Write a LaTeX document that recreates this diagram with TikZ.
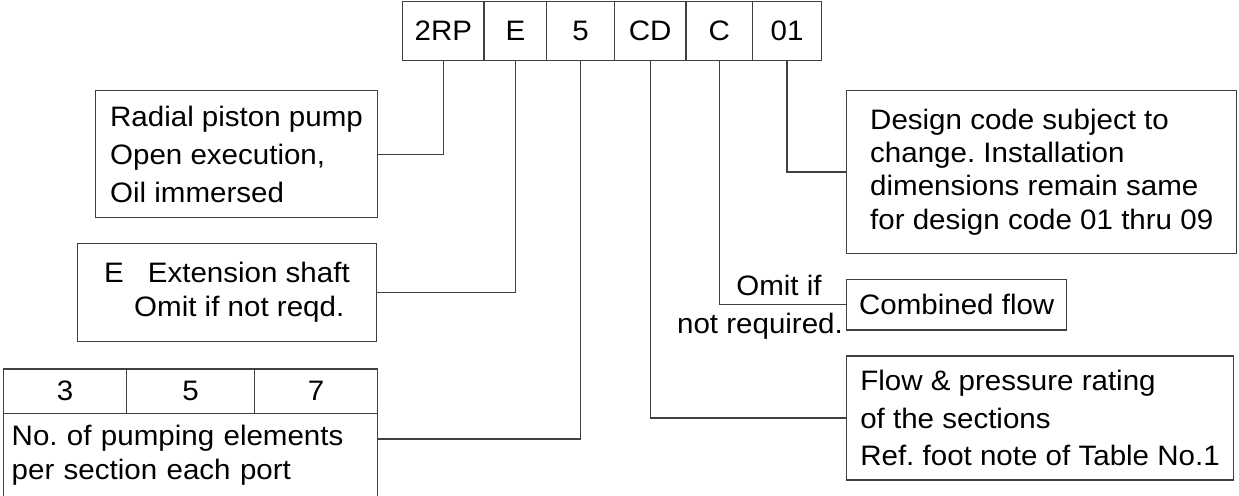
\documentclass[tikz,border=0pt]{standalone}
\usepackage{fontspec}
\setmainfont{Liberation Sans}[FakeStretch=1.05]
\frenchspacing

\begin{document}
\begin{tikzpicture}[x=0.2mm, y=-0.2mm,
    every node/.style={font=\fontsize{16pt}{19.5pt}\selectfont},
    box/.style={draw=black!75, line width=0.25mm, outer sep=0pt, inner sep=0pt},
    note/.style={box, anchor=north west, align=left},
    cell/.style={box, minimum height=11.72mm},
    link/.style={draw=black!75, line width=0.25mm}]
    \useasboundingbox (0,0) rectangle (1239,495);
    \clip (0,0) rectangle (1239,495);
    % the type code, one cell per field
    \foreach \t/\xa/\xb [count=\i] in {2RP/402.7/484, E/484/546.7, 5/546.7/614.3,
        CD/614.3/686, C/686/752.3, 01/752.3/821.7}
      \node[cell, minimum width={(\xb-\xa)*0.2mm}] (c\i) at ({(\xa+\xb)/2},31) {\t};
    % notes on the left
    \node[note, font=\fontsize{16pt}{21.5pt}\selectfont, minimum width=56.32mm,
      minimum height=25.4mm] (pump) at (95.7,90.7)
      {Radial piston pump\\Open execution,\\Oil immersed};
    \node[note, minimum width=59.88mm, minimum height=19.68mm] (shaft) at (77.3,243.3)
      {E\hspace{4.8mm}Extension shaft\\\hspace*{6mm}Omit if not reqd.};
    % pumping elements, the table runs off the bottom
    \foreach \t/\xa/\xb [count=\i] in {3/3.3/126.7, 5/126.7/254.3, 7/254.3/377.7}
      \node[box, minimum width={(\xb-\xa)*0.2mm}, minimum height=8.86mm] (e\i)
        at ({(\xa+\xb)/2},391.15) {\t};
    \node[note, minimum width=74.88mm, minimum height=16.74mm, text width=71.52mm,
      inner xsep=1.68mm] (elem) at (3.3,413.3)
      {No. of pumping elements\\per section each port};
    % notes on the right
    \node[note, font=\fontsize{16pt}{19pt}\selectfont, minimum width=78mm,
      minimum height=32.52mm] (design) at (846.7,90.7)
      {Design code subject to\\change. Installation\\dimensions remain same\\for design code 01 thru 09};
    \node[note, minimum width=44mm, minimum height=10.14mm] (comb) at (846.7,279.3)
      {Combined flow};
    \node[note, font=\fontsize{16pt}{21.5pt}\selectfont, minimum width=77.32mm,
      minimum height=24.8mm] (rating) at (846.7,356)
      {Flow \& pressure rating\\of the sections\\Ref. foot note of Table No.1};
    \node[anchor=base] (omit) at (779,295) {Omit if};
    \node[anchor=base] (notreq) at (760,333.3) {not required.};
    % leaders from the code cells
    \draw[link] (c1.south) |- (pump.east);
    \draw[link] (c2.south) |- (shaft.east);
    \draw[link] (c3.south) |- ([yshift=-5.14mm]elem.north east);
    \draw[link] (c4.south) |- (rating.west);
    \draw[link] (c5.south) |- (comb.west);
    \draw[link] (c6.south) |- (design.west);
\end{tikzpicture}
\end{document}
